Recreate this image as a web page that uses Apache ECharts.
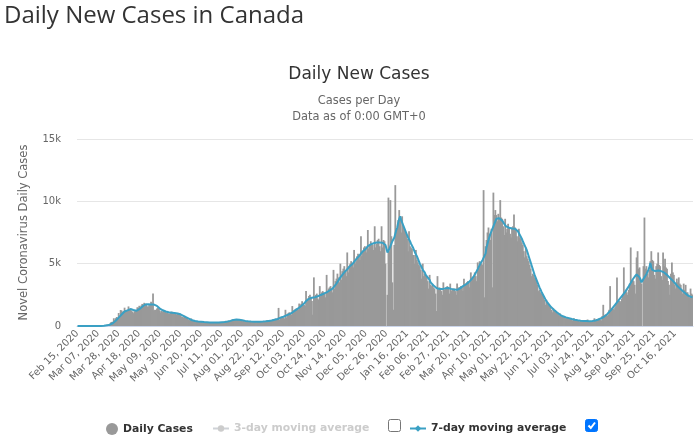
<!DOCTYPE html>
<html><head><meta charset="utf-8">
<script src="https://cdn.jsdelivr.net/npm/echarts@6/dist/echarts.min.js"></script>
<style>html,body{margin:0;padding:0;background:#fff;}#c{width:697px;height:439px;}</style>
</head><body><div id="c"></div>
<script>
// First day of the series
const startDate = [2020, 1, 15]; // Feb 15, 2020
const monthNames = ['Jan','Feb','Mar','Apr','May','Jun','Jul','Aug','Sep','Oct','Nov','Dec'];
const tickLabels = ['Feb 15, 2020','Mar 07, 2020','Mar 28, 2020','Apr 18, 2020','May 09, 2020','May 30, 2020','Jun 20, 2020','Jul 11, 2020','Aug 01, 2020','Aug 22, 2020','Sep 12, 2020','Oct 03, 2020','Oct 24, 2020','Nov 14, 2020','Dec 05, 2020','Dec 26, 2020','Jan 16, 2021','Feb 06, 2021','Feb 27, 2021','Mar 20, 2021','Apr 10, 2021','May 01, 2021','May 22, 2021','Jun 12, 2021','Jul 03, 2021','Jul 24, 2021','Aug 14, 2021','Sep 04, 2021','Sep 25, 2021','Oct 16, 2021'];
const yTickLabels = ['0','5k','10k','15k'];

// Daily cases, Feb 15 2020 - Dec 31 2020
const daily2020 = [
0,0,0,0,0,0,1,
1,0,0,1,0,1,1,
2,0,3,3,3,6,2,
5,6,15,14,13,45,40,
55,90,95,125,150,190,290,
330,340,620,470,630,720,640,
1040,770,1280,1240,1120,1190,1470,
1240,1290,1260,1570,1370,1380,1240,
1150,1030,1180,1220,1190,1500,1470,
1620,1380,1640,1770,1650,1860,1760,
1790,1570,1560,1670,1750,1950,1700,
2600,1250,1300,1280,1400,1470,1380,
1230,1080,1210,1120,1260,1150,1120,
1050,1090,1000,1010,1080,1160,1050,
1020,980,1000,920,1050,960,990,
870,760,740,690,820,660,720,
560,520,470,480,600,430,410,
420,330,380,360,370,330,390,
320,280,300,340,320,290,310,
280,270,300,290,240,310,270,
250,290,310,300,280,320,290,
300,330,340,350,330,380,390,
410,420,450,480,530,560,540,
500,470,500,520,480,490,460,
390,410,380,420,360,400,370,
330,360,340,370,350,330,360,
300,340,320,350,380,360,390,
330,380,400,410,430,460,420,
400,470,450,520,540,560,600,
520,540,1450,500,700,760,720,
650,600,1300,680,950,1050,1100,
1000,900,1600,1240,1250,1340,1400,
1400,1300,1800,1600,1780,1990,1800,
1700,1600,2800,2150,2200,2400,2500,
2300,2000,900,3900,2300,2500,2600,
2200,2100,3200,2400,2700,2800,2700,
2600,2300,4100,2700,3000,3100,3200,
2900,2700,4500,3000,3600,3800,4200,
3900,3500,5000,3700,4400,4600,4800,
4400,4000,5900,4300,4800,5000,5200,
5000,4700,6100,5000,5200,5600,5800,
5700,5300,7200,5600,6000,6300,6400,
6200,5900,7700,6200,6500,6800,6600,
6500,6100,8000,6300,6600,6900,7000,
6400,6000,8000,6300,6900,6800,5000,
0,2500,10300,6000,10100,7200
];
// Daily cases, Jan 1 2021 - Nov 3 2021
const daily2021 = [
3500,
1300,6500,11300,7600,7800,8500,9300,
8600,7500,8800,7900,7800,7700,7400,
7000,6000,7600,6400,6300,6200,5700,
5700,5000,6100,5300,5100,4900,4800,
4500,3800,5000,4000,4200,4100,4000,
3600,3000,4100,3300,3200,3300,3100,
3000,2600,1200,4000,2900,3100,3000,
2800,2500,3500,2900,3000,3100,3200,
3000,2600,3400,2800,2900,3000,3000,
2800,2500,3400,2900,3100,3100,3200,
3100,2800,3800,3300,3400,3500,3600,
3500,3100,4300,3700,3900,4000,4300,
4000,3600,5100,4800,5200,5100,5000,
4900,10900,2300,6400,6900,7500,7900,
7400,6900,7800,3100,10700,8900,9300,
8900,8400,9000,8600,10100,8700,8600,
8000,7300,8600,7500,7800,8200,7900,
7400,7100,7900,8000,8950,7900,7800,
7200,6800,7800,7100,7000,6700,6500,
6000,5500,6300,5600,5400,5200,4900,
4600,4000,4200,4100,3900,3800,3600,
3300,2800,2900,2700,2600,2500,2400,
2100,1700,2100,1900,1800,1600,1500,
1300,1100,1400,1200,1200,1100,1000,
950,800,1000,850,800,750,760,
680,600,720,650,600,580,560,
500,420,620,500,480,450,430,
410,360,480,420,420,430,400,
380,330,520,380,380,400,380,
380,340,620,430,500,560,580,
600,500,450,800,1700,800,900,
900,800,900,1300,3200,1300,1400,
1400,1300,1500,1800,3900,1900,2000,
2000,1900,2200,2500,4700,2700,2900,
2700,2500,2900,3400,6300,3500,3700,
3600,3300,2600,5500,6000,4600,4700,
3800,3400,0,4800,8700,4600,4800,
4200,3900,4500,5200,6000,5300,5200,
4100,3800,4800,5000,5900,4900,4800,
4000,3700,5900,4800,5400,4700,4600,
3600,3300,2500,4200,5100,4300,4100,
3300,3000,3800,3500,3900,3400,3300,
2800,2600,3400,2900,3300,2700,2700,
2500,2300,3000,2600,2500
];
// 7-day moving average, 2020
const avg7_2020 = [
0,0,0,0,0,0,0,
0,0,0,0,1,1,1,
1,1,1,2,2,3,3,
4,5,7,8,10,16,20,
28,40,52,68,85,105,140,
180,220,300,360,420,490,560,
670,740,830,920,990,1060,1160,
1190,1230,1250,1310,1330,1360,1340,
1320,1280,1270,1240,1220,1250,1290,
1350,1400,1470,1550,1620,1680,1720,
1730,1740,1750,1740,1740,1730,1720,
1740,1720,1690,1650,1610,1570,1530,
1400,1350,1300,1260,1230,1190,1160,
1130,1130,1100,1080,1070,1070,1060,
1060,1040,1030,1010,1000,990,960,
940,900,860,820,780,740,700,
660,620,580,530,490,460,430,
420,400,380,370,360,350,350,
340,330,320,320,320,310,310,
300,300,290,290,290,290,290,
280,280,280,290,290,300,300,
310,320,320,330,340,350,360,
380,390,410,430,460,490,510,
520,520,510,510,500,490,480,
460,440,420,410,400,390,380,
370,360,360,350,350,350,350,
340,340,340,340,350,350,350,
360,360,370,380,390,400,410,
420,430,440,460,480,500,520,
540,560,600,640,670,700,720,
740,760,820,850,880,920,960,
990,1030,1080,1140,1190,1250,1310,
1360,1410,1460,1530,1610,1680,1750,
1800,1860,2000,2100,2150,2190,2220,
2240,2260,2280,2300,2310,2330,2350,
2380,2420,2450,2490,2520,2560,2590,
2620,2650,2700,2750,2800,2850,2900,
2950,3000,3100,3200,3300,3400,3500,
3650,3800,3900,4000,4100,4200,4300,
4400,4450,4550,4650,4750,4800,4900,
4950,5050,5150,5250,5350,5450,5500,
5600,5700,5800,5900,6000,6100,6150,
6200,6300,6400,6450,6500,6550,6600,
6620,6640,6660,6680,6700,6700,6700,
6690,6690,6700,6680,6650,6620,6500,
6200,5900,6050,6200,6400,6550
];
// 7-day moving average, 2021
const avg7_2021 = [
6800,
6900,7100,7400,7700,7900,8300,8600,
8800,8500,8300,8100,7900,7700,7500,
7300,7100,7000,6800,6600,6500,6300,
6100,5900,5800,5600,5400,5200,5000,
4900,4700,4500,4400,4300,4100,4000,
3900,3800,3700,3500,3450,3350,3250,
3150,3100,3050,3000,2980,2960,2950,
2950,2960,2970,3000,3020,3040,3050,
3050,3030,3000,2980,2950,2930,2920,
2900,2890,2900,2930,2980,3020,3080,
3140,3200,3250,3290,3330,3380,3450,
3520,3600,3680,3780,3880,3990,4120,
4260,4410,4550,4720,4880,5040,5200,
5300,5400,5350,5800,6300,6600,6900,
7150,7400,7600,7800,8000,8200,8400,
8600,8700,8680,8650,8600,8550,8450,
8300,8200,8100,8000,7950,7900,7880,
7860,7840,7820,7810,7800,7800,7790,
7700,7600,7500,7300,7150,7000,6800,
6650,6450,6300,6100,5850,5600,5350,
5100,4850,4600,4350,4100,3900,3700,
3500,3300,3100,2930,2750,2600,2450,
2300,2150,2000,1890,1800,1700,1600,
1500,1420,1350,1280,1210,1140,1080,
1000,950,900,860,820,780,750,
720,690,670,650,630,610,590,
560,540,510,500,480,470,460,
450,440,430,420,420,410,410,
400,400,390,390,390,390,400,
400,410,420,440,470,500,520,
550,580,620,650,700,760,820,
880,950,1030,1120,1200,1300,1400,
1500,1600,1700,1800,1900,2000,2100,
2200,2300,2400,2500,2600,2700,2820,
2940,3060,3180,3300,3450,3600,3730,
3850,3950,4050,4130,4200,4100,3900,
3700,3500,3350,3600,3900,4000,4150,
4300,4500,4700,5050,4700,4500,4450,
4400,4400,4420,4440,4450,4450,4430,
4400,4380,4350,4300,4250,4200,4100,
4050,3950,3850,3800,3700,3620,3530,
3450,3350,3250,3180,3100,3020,2950,
2880,2800,2730,2660,2600,2540,2480,
2420,2380,2350,2320,2300
];

const dailyCases = daily2020.concat(daily2021);
const avg7 = avg7_2020.concat(avg7_2021);

// one category per day
const categories = [];
for (let i = 0; i < dailyCases.length; i++) {
  const d = new Date(Date.UTC(startDate[0], startDate[1], startDate[2] + i));
  categories.push(monthNames[d.getUTCMonth()] + ' ' + String(d.getUTCDate()).padStart(2, '0') + ', ' + d.getUTCFullYear());
}

const FONT = 'DejaVu Sans';
const chart = echarts.init(document.getElementById('c'), null, {renderer: 'canvas'});
chart.setOption({
  animation: false,
  backgroundColor: '#fff',
  textStyle: {fontFamily: FONT},
  title: [
    {text: 'Daily New Cases in Canada', left: -1, top: -1,
     textStyle: {fontFamily: 'Open Sans', fontSize: 24, fontWeight: 'normal', color: '#333'}},
    {text: 'Daily New Cases', left: 354, top: 61, textAlign: 'center',
     textStyle: {fontFamily: FONT, fontSize: 17, fontWeight: 'normal', color: '#333'}},
    {text: 'Cases per Day', left: 354, top: 91, textAlign: 'center',
     textStyle: {fontFamily: FONT, fontSize: 11.4, fontWeight: 'normal', color: '#666'}},
    {text: 'Data as of 0:00 GMT+0', left: 354, top: 107, textAlign: 'center',
     textStyle: {fontFamily: FONT, fontSize: 11.4, fontWeight: 'normal', color: '#666'}}
  ],
  grid: {left: 77, right: 4, top: 139, bottom: 113, containLabel: false},
  legend: [
    {data: [{name: 'Daily Cases', icon: 'circle'}], left: 101, top: 418, itemWidth: 12, itemHeight: 12,
     textStyle: {fontFamily: FONT, fontSize: 10.8, fontWeight: 'bold', color: '#333'},
     selected: {'3-day moving average': false}},
    {data: ['3-day moving average'], left: 207, top: 418, itemWidth: 16, itemHeight: 8,
     textStyle: {fontFamily: FONT, fontSize: 10.8, fontWeight: 'bold', color: '#333'},
     inactiveColor: '#ccc', selected: {'3-day moving average': false}},
    {data: ['7-day moving average'], left: 404, top: 418, itemWidth: 16, itemHeight: 8,
     textStyle: {fontFamily: FONT, fontSize: 10.8, fontWeight: 'bold', color: '#333'},
     selected: {'3-day moving average': false}}
  ],
  xAxis: {
    type: 'category',
    data: categories,
    boundaryGap: true,
    axisLine: {lineStyle: {color: '#ccd6eb'}},
    axisTick: {show: false},
    axisLabel: {
      interval: 20, rotate: 45, fontFamily: FONT, fontSize: 10, color: '#666', margin: 6,
      formatter: function (v, i) { const k = i / 21; return Number.isInteger(k) && tickLabels[k] ? tickLabels[k] : ''; }
    },
    splitLine: {show: false}
  },
  yAxis: {
    type: 'value', min: 0, max: 15000, interval: 5000,
    name: 'Novel Coronavirus Daily Cases', nameLocation: 'middle', nameGap: 47,
    nameTextStyle: {fontFamily: FONT, fontSize: 11.5, color: '#666'},
    axisLine: {show: false}, axisTick: {show: false},
    axisLabel: {fontFamily: FONT, fontSize: 10, color: '#666', margin: 16,
      formatter: function (v) { return yTickLabels[Math.round(v / 5000)]; }},
    splitLine: {lineStyle: {color: '#e6e6e6', width: 1}}
  },
  series: [
    {name: 'Daily Cases', type: 'bar', data: dailyCases, barWidth: 1.8,
     itemStyle: {color: '#999'}, z: 2},
    {name: '3-day moving average', type: 'line', data: [], symbol: 'circle', symbolSize: 6,
     itemStyle: {color: '#999'}, lineStyle: {color: '#999'}},
    {name: '7-day moving average', type: 'line', data: avg7, symbol: 'diamond', symbolSize: 8,
     showSymbol: false, smooth: false,
     itemStyle: {color: '#3aa0c4'}, lineStyle: {color: '#3aa0c4', width: 2}, z: 3}
  ],
  graphic: [
    {type: 'rect', shape: {x: 388.5, y: 419.5, width: 12, height: 12, r: 2},
     style: {fill: '#fff', stroke: '#767676', lineWidth: 1}},
    {type: 'rect', shape: {x: 585.5, y: 419.5, width: 12, height: 12, r: 2},
     style: {fill: '#0075ff', stroke: '#0075ff', lineWidth: 1}},
    {type: 'polyline', shape: {points: [[588.5, 425.5], [590.8, 428], [595, 422.5]]},
     style: {stroke: '#fff', lineWidth: 2, fill: null}}
  ]
});
</script>
</body></html>
